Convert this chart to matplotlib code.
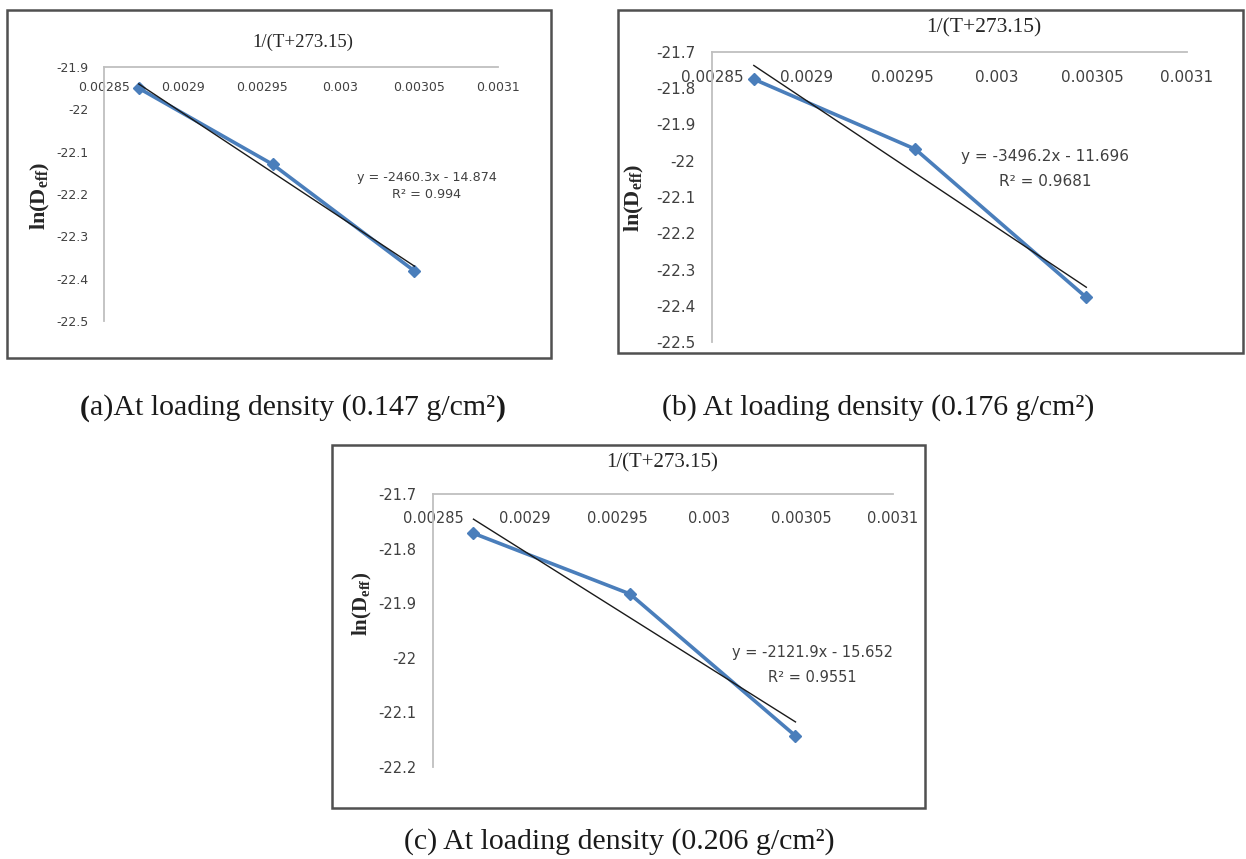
import matplotlib
matplotlib.use("Agg")
import matplotlib.pyplot as plt
from matplotlib.patches import Rectangle
from matplotlib.text import Annotation
import numpy as np

W, H = 1246, 859

# ---------------- data ----------------
inv_T = [0.002872, 0.002957, 0.003047]          # 1/(T+273.15)
ln_deff_a = [-21.950, -22.130, -22.382]
ln_deff_b = [-21.775, -21.968, -22.377]
ln_deff_c = [-21.772, -21.883, -22.143]

fit_a = (-2460.3, -14.874)
fit_b = (-3496.2, -11.696)
fit_c = (-2121.9, -15.652)

eq_a = ["y = -2460.3x - 14.874", "R² = 0.994"]
eq_b = ["y = -3496.2x - 11.696", "R² = 0.9681"]
eq_c = ["y = -2121.9x - 15.652", "R² = 0.9551"]

x_ticks = [0.00285, 0.0029, 0.00295, 0.003, 0.00305, 0.0031]
x_tick_labels = ["0.00285", "0.0029", "0.00295", "0.003", "0.00305", "0.0031"]

y_ticks_a = [-21.9, -22.0, -22.1, -22.2, -22.3, -22.4, -22.5]
y_labels_a = ["-21.9", "-22", "-22.1", "-22.2", "-22.3", "-22.4", "-22.5"]
y_ticks_b = [-21.7, -21.8, -21.9, -22.0, -22.1, -22.2, -22.3, -22.4, -22.5]
y_labels_b = ["-21.7", "-21.8", "-21.9", "-22", "-22.1", "-22.2", "-22.3", "-22.4", "-22.5"]
y_ticks_c = [-21.7, -21.8, -21.9, -22.0, -22.1, -22.2]
y_labels_c = ["-21.7", "-21.8", "-21.9", "-22", "-22.1", "-22.2"]

x_title = "1/(T+273.15)"
# caption pieces: (text, bold?)
caption_a = [("(", True), ("a)At loading density (0.147 g/cm²", False), (")", True)]
caption_b = [("(b) At loading density (0.176 g/cm²)", False)]
caption_c = [("(c) At loading density (0.206 g/cm²)", False)]

# ---------------- style ----------------
BLUE = "#4A7EBB"
AXC = "#BFBFBF"
TXT = "#404040"
SERIF = ["Liberation Serif", "DejaVu Serif"]
SANS = ["DejaVu Sans"]

plt.rcParams["mathtext.fontset"] = "custom"
plt.rcParams["mathtext.rm"] = "Liberation Serif:bold"
plt.rcParams["mathtext.it"] = "Liberation Serif:bold"
plt.rcParams["mathtext.bf"] = "Liberation Serif:bold"

fig = plt.figure(figsize=(W / 100, H / 100), dpi=100)
fig.patch.set_facecolor("white")


def fx(px):
    return px / W


def fy(py):
    return 1 - py / H


panels = [
    dict(frame=(7, 10, 551, 358), ax=(104, 67, 498, 321), ylim=(-22.5, -21.9),
         yt=y_ticks_a, yl=y_labels_a, y=ln_deff_a, fit=fit_a, eq=eq_a,
         eqpos=(427, 178, 194), title=(303, 42), ylab=(40, 196), ylfs=16,
         fs=9, tfs=13.5, xpad=10, ypad=11, eqfs=9.2, cap=caption_a,
         cappos=(80, 408)),
    dict(frame=(618, 10, 1243, 353), ax=(712, 52, 1187, 342), ylim=(-22.5, -21.7),
         yt=y_ticks_b, yl=y_labels_b, y=ln_deff_b, fit=fit_b, eq=eq_b,
         eqpos=(1045, 157, 181), title=(984, 28), ylab=(634, 198), ylfs=16,
         fs=11, tfs=15.5, xpad=13, ypad=12, eqfs=11, cap=caption_b,
         cappos=(662, 408)),
    dict(frame=(332, 445, 925, 808), ax=(433, 494, 893, 767), ylim=(-22.2, -21.7),
         yt=y_ticks_c, yl=y_labels_c, y=ln_deff_c, fit=fit_c, eq=eq_c,
         eqpos=(812, 653, 677), title=(662, 463), ylab=(362, 604), ylfs=15,
         fs=10.5, tfs=15, xpad=12, ypad=12, eqfs=10.5, cap=caption_c,
         cappos=(404, 842)),
]

for p in panels:
    l, t, r, b = p["frame"]
    fig.patches.append(Rectangle((fx(l), fy(b)), fx(r - l), (b - t) / H,
                                 transform=fig.transFigure, fill=False,
                                 ec="#505050", lw=1.8, zorder=0))
    al, at, ar, ab = p["ax"]
    ax = fig.add_axes([fx(al), fy(ab), fx(ar - al), (ab - at) / H])
    ax.set_facecolor("none")
    ax.set_xlim(x_ticks[0], x_ticks[-1])
    ax.set_ylim(*p["ylim"])
    for s in ["top", "right"]:
        ax.spines[s].set_visible(False)
    ax.spines["bottom"].set_position(("axes", 1.0))
    for s in ["left", "bottom"]:
        ax.spines[s].set_color(AXC)
        ax.spines[s].set_linewidth(1.3)
    ax.set_xticks(x_ticks)
    ax.set_xticklabels(x_tick_labels, family=SANS, fontsize=p["fs"], color=TXT)
    ax.set_yticks(p["yt"])
    ax.set_yticklabels(p["yl"], family=SANS, fontsize=p["fs"], color=TXT)
    ax.tick_params(axis="both", length=0)
    ax.tick_params(axis="x", pad=p["xpad"])
    ax.tick_params(axis="y", pad=p["ypad"])

    ax.plot(inv_T, p["y"], color=BLUE, lw=2.6, marker="D", ms=6.5,
            mfc=BLUE, mec=BLUE, zorder=3, clip_on=False)
    m, c = p["fit"]
    xf = np.array([inv_T[0], inv_T[-1]])
    ax.plot(xf, m * xf + c, color="#1a1a1a", lw=1.0, zorder=4, clip_on=False)

    ex, ey1, ey2 = p["eqpos"]
    fig.text(fx(ex), fy(ey1), p["eq"][0], family=SANS, fontsize=p["eqfs"],
             color=TXT, ha="center", va="center")
    fig.text(fx(ex), fy(ey2), p["eq"][1], family=SANS,
             fontsize=p["eqfs"], color=TXT, ha="center", va="center")

    tx, ty = p["title"]
    fig.text(fx(tx), fy(ty), x_title, family=SERIF, fontsize=p["tfs"],
             color="#262626", ha="center", va="center")

    lx, ly = p["ylab"]
    fig.text(fx(lx), fy(ly), r"$\mathrm{ln(D_{eff})}$", fontsize=p["ylfs"],
             color="#262626", rotation=90, ha="center", va="center")

    # caption, drawn piece by piece
    cx, cy = p["cappos"]
    prev = None
    for txt, bold in p["cap"]:
        kw = dict(family=SERIF, fontsize=21.5, color="#1a1a1a",
                  weight="bold" if bold else "normal")
        if prev is None:
            prev = fig.text(fx(cx), fy(cy), txt, ha="left", va="center", **kw)
        else:
            a = Annotation(txt, xy=(1, 0.5), xycoords=prev, ha="left",
                           va="center", **kw)
            fig.add_artist(a)
            prev = a

fig.savefig("out.png", dpi=100, facecolor="white")
